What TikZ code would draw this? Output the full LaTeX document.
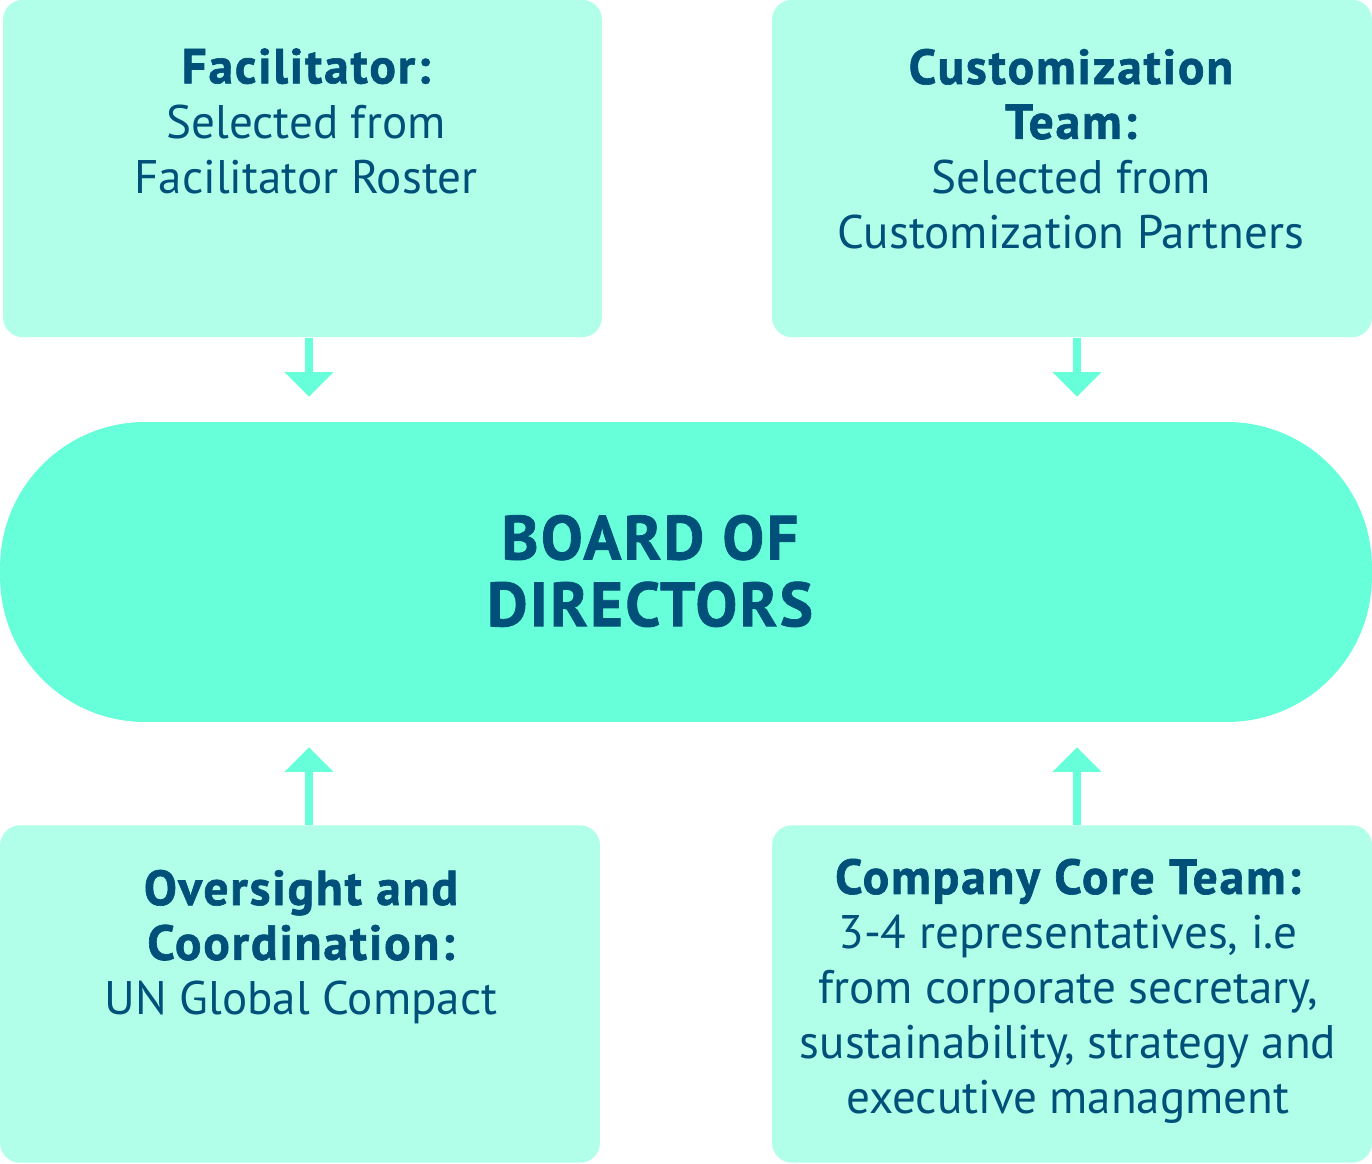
\documentclass[tikz,border=0pt]{standalone}
\usepackage{fontspec}
\setmainfont{PT Sans}
\usepackage{xcolor}
\usepackage{tikz}
\usetikzlibrary{arrows.meta,calc,positioning}
\definecolor{boxmint}{HTML}{B1FFE8}
\definecolor{boardmint}{HTML}{66FFD9}
\definecolor{inkblue}{HTML}{00507A}
\newcommand\headline[1]{{\fontsize{28}{31.2}\bfseries\addfontfeatures{FakeBold=1.3,LetterSpace=4}\selectfont #1}}

\begin{document}
\begin{tikzpicture}[x=0.02cm,y=0.02cm,
  panel/.style={rectangle,rounded corners=0.4cm,fill=boxmint,inner sep=0pt,
    minimum width=12cm,minimum height=6.75cm},
  board/.style={rectangle,rounded corners=2.9cm,fill=boardmint,inner sep=0pt,
    minimum width=27.44cm,minimum height=6cm},
  txt/.style={text=inkblue,align=center,inner sep=0pt,
    font=\fontsize{26.8}{31.2}\selectfont},
  boardtxt/.style={text=inkblue,align=center,inner sep=0pt,
    font=\fontsize{35.5}{38}\bfseries\addfontfeatures{FakeBold=1.3,LetterSpace=4}\selectfont},
  link/.style={boardmint,line width=5.1pt,shorten >=0.5cm,
    -{Triangle[width=27pt,length=14pt]}}]
\useasboundingbox (0,0) rectangle (1372,1163);
% boxes
\node[panel,minimum width=11.98cm] (fac) at (302.5,994.5) {};
\node[panel] (cust) at (1072,994.5) {};
\node[board] (dir) at (686,591) {};
\node[panel] (over) at (300,169) {};
\node[panel] (core) at (1072,169) {};
% texts
\node[txt] (factxt) at (306,1042) {\headline{Facilitator:}\\Selected from\\Facilitator Roster};
\node[txt] (custtxt) at (1071,1014) {\headline{Customization}\\\headline{Team:}\\Selected from\\Customization Partners};
\node[boardtxt] (dirtxt) at (650,592) {BOARD OF\\DIRECTORS};
\node[txt] (overtxt) at (301,216) {\headline{Oversight and}\\\headline{Coordination:}\\UN Global Compact};
\node[txt] (coretxt) at (1068,172) {\headline{Company Core Team:}\\3-4 representatives, i.e\\from corporate secretary,\\sustainability, strategy and\\executive managment};
% arrows
\draw[link] ($(fac.south)+(6.5,0)$) -- ($(fac.south |- dir.north)+(6.5,0)$);
\draw[link] ($(cust.south)+(5,0)$) -- ($(cust.south |- dir.north)+(5,0)$);
\draw[link] ($(over.north)+(9,0)$) -- ($(over.north |- dir.south)+(9,0)$);
\draw[link] ($(core.north)+(5,0)$) -- ($(core.north |- dir.south)+(5,0)$);
\end{tikzpicture}
\end{document}
